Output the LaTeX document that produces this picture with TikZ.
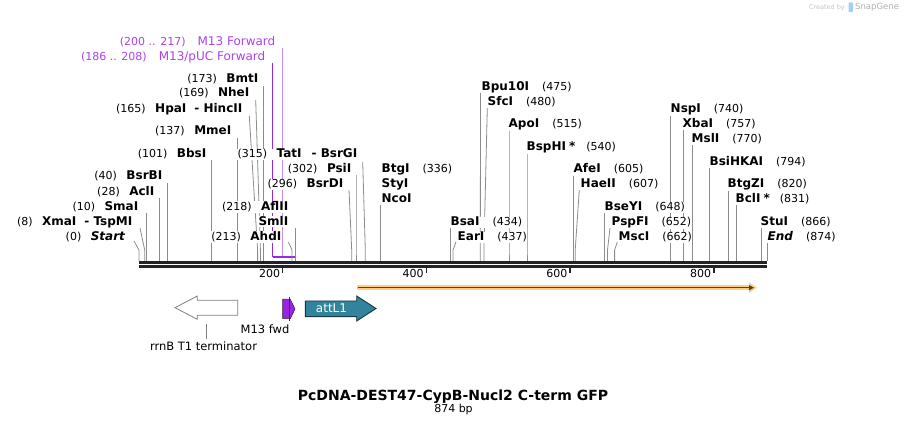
\documentclass[tikz,border=0pt]{standalone}
\usepackage{fontspec}
\setmainfont{DejaVu Sans}
\usetikzlibrary{arrows.meta}
\pgfdeclarelayer{bg}
\pgfsetlayers{bg,main}

\definecolor{cutgray}{RGB}{140,140,140}
\definecolor{axiscol}{RGB}{35,35,35}
\definecolor{primtext}{RGB}{175,65,240}
\definecolor{primdark}{RGB}{150,40,230}
\definecolor{primlight}{RGB}{200,140,245}
\definecolor{orglow}{RGB}{255,204,128}
\definecolor{ordark}{RGB}{85,65,35}
\definecolor{attcol}{RGB}{49,132,155}
\definecolor{attedge}{RGB}{25,55,65}
\definecolor{m13col}{RGB}{155,35,230}
\definecolor{featedge}{RGB}{128,128,128}
\definecolor{wmgray}{RGB}{195,195,195}
\definecolor{wmblue}{RGB}{160,210,240}

\newcommand{\pnum}[1]{{\fontsize{11}{13}\selectfont\mdseries #1}}
\newcommand{\gapL}{\hspace{9.5pt}}
\newcommand{\gapR}{\hspace{13pt}}
\newcommand{\enzlab}[5]{\node[lab, anchor=base #2] (#1) at (#3,#4) {#5};}
\newcommand{\enzcut}[4]{%
  \coordinate (#1-a) at (#2,#3);
  \coordinate (#1-b) at (#4,250);
  \coordinate (#1-s) at (#4,261);
  \begin{pgfonlayer}{bg}\draw[cut] (#1-a) -- (#1-b) -- (#1-s);\end{pgfonlayer}}

\tikzset{
  lab/.style={inner sep=0.5pt, fill=white, font=\fontsize{12}{14}\selectfont\bfseries, yshift=-4pt},
  cut/.style={draw=cutgray, line width=0.8pt},
  primlab/.style={inner sep=0.5pt, fill=white, text=primtext, font=\fontsize{12}{14}\selectfont, anchor=base east, yshift=-4pt},
  featlab/.style={inner sep=0pt, font=\fontsize{11.5}{13}\selectfont, anchor=base},
  axisbar/.style={draw=axiscol},
}

\begin{document}
\begin{tikzpicture}[x=1pt,y=-1pt]
\useasboundingbox (0,0) rectangle (907,427);

% watermark
\node[inner sep=0pt, text=wmgray, font=\fontsize{6.5}{8}\selectfont, anchor=base east] (wm1) at (845,9.5) {Created by};
\fill[wmblue, rounded corners=0.8pt] (848.5,2.5) rectangle (853,12) ;
\node[inner sep=0pt, text=wmgray!90!black, font=\fontsize{8.5}{10}\selectfont, anchor=base west] (wm2) at (855,10) {SnapGene};

% primers
\coordinate (p1t) at (282.7,48);
\coordinate (p1b) at (282.7,257.5);
\coordinate (p2t) at (272.6,63);
\coordinate (p2b) at (272.6,257.5);
\coordinate (pbarR) at (294.9,257.5);
\begin{pgfonlayer}{bg}
\draw[primlight, line width=1pt] (p1t) -- (p1b);
\draw[primdark, line width=1pt] (p2t) -- (p2b);
\draw[primdark, line width=2pt] (p2b) -- (pbarR);
\end{pgfonlayer}
\node[primlab] (m13f) at (276,42) {\pnum{(200 .. 217)}\hspace{12pt}M13 Forward};
\node[primlab] (m13puc) at (266,57) {\pnum{(186 .. 208)}\hspace{12pt}M13/pUC Forward};

% enzymes, left group
\enzlab{Start}{east}{126}{237}{\pnum{(0)}\gapL\textit{Start}}
\enzcut{Start}{134}{241}{139}
\enzlab{XmaI}{east}{133}{222}{\pnum{(8)}\gapL XmaI\hspace{8pt}- TspMI}
\enzcut{XmaI}{140}{228}{144.7}
\enzlab{SmaI}{east}{139}{207}{\pnum{(10)}\gapL SmaI}
\enzcut{SmaI}{146.2}{213}{146.2}
\enzlab{AclI}{east}{155}{192}{\pnum{(28)}\gapL AclI}
\enzcut{AclI}{159.1}{198}{159.1}
\enzlab{BsrBI}{east}{163}{176}{\pnum{(40)}\gapL BsrBI}
\enzcut{BsrBI}{167.7}{183}{167.7}
\enzlab{BbsI}{east}{207}{154}{\pnum{(101)}\gapL BbsI}
\enzcut{BbsI}{211.6}{160}{211.6}
\enzlab{MmeI}{east}{232}{131}{\pnum{(137)}\gapL MmeI}
\enzcut{MmeI}{237.4}{138}{237.4}
\enzlab{HpaI}{east}{243}{109}{\pnum{(165)}\gapL HpaI\hspace{8pt}- HincII}
\enzcut{HpaI}{249.3}{116}{257.6}
\enzlab{NheI}{east}{250}{93}{\pnum{(169)}\gapL NheI}
\enzcut{NheI}{255.7}{100}{260.4}
\enzlab{BmtI}{east}{259}{79}{\pnum{(173)}\gapL BmtI}
\enzcut{BmtI}{263.3}{86}{263.3}
\enzlab{TatI}{east}{358}{154}{\pnum{(315)}\gapL TatI\hspace{10pt}- BsrGI}
\enzcut{TatI}{362.7}{162}{365.3}
\enzlab{PsiI}{east}{352}{169}{\pnum{(302)}\gapL PsiI}
\enzcut{PsiI}{356}{175}{356}
\enzlab{BsrDI}{east}{344}{184}{\pnum{(296)}\gapL BsrDI}
\enzcut{BsrDI}{349}{190}{351.7}
\enzlab{AflII}{east}{289}{207}{\pnum{(218)}\gapL AflII}
\enzlab{SmlI}{east}{289}{222}{SmlI}
\enzcut{SmlI}{295.6}{228}{295.6}
\enzlab{AhdI}{east}{282}{237}{\pnum{(213)}\gapL AhdI}
\enzcut{AhdI}{288.3}{242}{292}

% enzymes, right group
\enzlab{BtgI}{west}{381}{169}{BtgI\gapR\pnum{(336)}}
\enzlab{StyI}{west}{381}{184}{StyI}
\enzlab{NcoI}{west}{381}{199}{NcoI}
\enzcut{NcoI}{380.4}{205}{380.4}
\enzlab{BsaI}{west}{450}{222}{BsaI\gapR\pnum{(434)}}
\enzcut{BsaI}{450.8}{228}{450.8}
\enzlab{EarI}{west}{457}{237}{EarI\gapR\pnum{(437)}}
\enzcut{EarI}{456}{242}{453}
\enzlab{Bpu10I}{west}{481}{87}{Bpu10I\gapR\pnum{(475)}}
\enzcut{Bpu10I}{480.5}{93}{480.3}
\enzlab{SfcI}{west}{487}{102}{SfcI\gapR\pnum{(480)}}
\enzcut{SfcI}{487.3}{108}{483.9}
\enzlab{ApoI}{west}{508}{124}{ApoI\gapR\pnum{(515)}}
\enzcut{ApoI}{509}{130}{509}
\enzlab{BspHI}{west}{526}{147}{BspHI\hspace{3pt}*\hspace{11pt}\pnum{(540)}}
\enzcut{BspHI}{527}{153}{527}
\enzlab{AfeI}{west}{573}{169}{AfeI\gapR\pnum{(605)}}
\enzcut{AfeI}{573.7}{176}{573.7}
\enzlab{HaeII}{west}{580}{184}{HaeII\gapR\pnum{(607)}}
\enzcut{HaeII}{579.3}{190}{575.2}
\enzlab{BseYI}{west}{604}{207}{BseYI\gapR\pnum{(648)}}
\enzcut{BseYI}{604.6}{213}{604.6}
\enzlab{PspFI}{west}{611}{222}{PspFI\gapR\pnum{(652)}}
\enzcut{PspFI}{610}{228}{607.5}
\enzlab{MscI}{west}{618}{237}{MscI\gapR\pnum{(662)}}
\enzcut{MscI}{617.3}{242}{614.6}
\enzlab{NspI}{west}{670}{109}{NspI\gapR\pnum{(740)}}
\enzcut{NspI}{670.7}{115}{670.7}
\enzlab{XbaI}{west}{682}{124}{XbaI\gapR\pnum{(757)}}
\enzcut{XbaI}{682.9}{130}{682.9}
\enzlab{MslI}{west}{691}{139}{MslI\gapR\pnum{(770)}}
\enzcut{MslI}{692.3}{145}{692.3}
\enzlab{BsiHKAI}{west}{709}{162}{BsiHKAI\gapR\pnum{(794)}}
\enzcut{BsiHKAI}{709.5}{168}{709.5}
\enzlab{BtgZI}{west}{727}{184}{BtgZI\gapR\pnum{(820)}}
\enzcut{BtgZI}{728.2}{190}{728.2}
\enzlab{BclI}{west}{735}{199}{BclI\hspace{3pt}*\hspace{10pt}\pnum{(831)}}
\enzcut{BclI}{736}{205}{736}
\enzlab{StuI}{west}{760}{222}{StuI\gapR\pnum{(866)}}
\enzcut{StuI}{761.2}{228}{761.2}
\enzlab{End}{west}{767}{237}{\textit{End}\gapR\pnum{(874)}}
\enzcut{End}{767}{242}{767}

% axis
\coordinate (ax1L) at (139,262.4);
\coordinate (ax1R) at (767,262.4);
\coordinate (ax2L) at (139,266.7);
\coordinate (ax2R) at (767,266.7);
\draw[axisbar, line width=3pt] (ax1L) -- (ax1R);
\draw[axisbar, line width=2.6pt] (ax2L) -- (ax2R);
\foreach \v in {200,400,600,800}{
  \pgfmathsetmacro{\tx}{139+\v*0.718535}
  \coordinate (tk\v a) at (\tx,267.5);
  \coordinate (tk\v b) at (\tx,273.5);
  \draw[axiscol, line width=1.5pt] (tk\v a) -- (tk\v b);
  \node[font=\fontsize{11}{13}\selectfont, anchor=base east, inner sep=0pt] (tl\v) at (\tx-2.5,278) {\v};
}

% orange feature
\coordinate (orA) at (357.3,287.7);
\coordinate (orB) at (757,287.7);
\coordinate (orC) at (754,287.7);
\draw[orglow, line width=4.5pt, -{Triangle[length=8pt,width=10pt]}] (orA) -- (orB);
\draw[ordark, line width=1.6pt, -{Triangle[length=5pt,width=5pt]}] ([xshift=1pt]orA) -- (orC);

% rrnB T1 terminator
\draw[featedge, fill=white, line width=0.8pt] (175,307.7) -- (197.3,296) -- (197.3,300.3) -- (237.7,300.3) -- (237.7,315.3) -- (197.3,315.3) -- (197.3,319.3) -- cycle;
\coordinate (rrnT) at (206.7,323.7);
\node[featlab] (rrnL) at (203.5,350) {rrnB T1 terminator};
\draw[featedge, line width=0.8pt] (rrnT) -- (206.7,338.7);

% M13 fwd
\draw[black!80, fill=m13col, line width=0.6pt] (282.7,299.3) -- (290.3,299.3) -- (295,309) -- (290.3,318.7) -- (282.7,318.7) -- cycle;
\coordinate (m13t) at (289.3,296.7);
\coordinate (m13b) at (289.3,321);
\draw[black!80, line width=0.6pt] (m13t) -- (m13b);
\node[featlab] (m13L) at (265,333.3) {M13 fwd};

% attL1
\draw[attedge, fill=attcol, line width=0.9pt] (305.3,301) -- (356.7,301) -- (356.7,296) -- (376,308.5) -- (356.7,321) -- (356.7,316.7) -- (305.3,316.7) -- cycle;
\node[inner sep=0pt, text=white, font=\fontsize{12}{14}\selectfont] (attL) at (331.5,308.5) {attL1};

% title
\node[inner sep=0pt, font=\fontsize{14}{16}\selectfont\bfseries, anchor=base] (title) at (453,400.5) {PcDNA-DEST47-CypB-Nucl2 C-term GFP};
\node[inner sep=0pt, font=\fontsize{11}{13}\selectfont, anchor=base] (size) at (453.5,412.7) {874 bp};
\end{tikzpicture}
\end{document}
